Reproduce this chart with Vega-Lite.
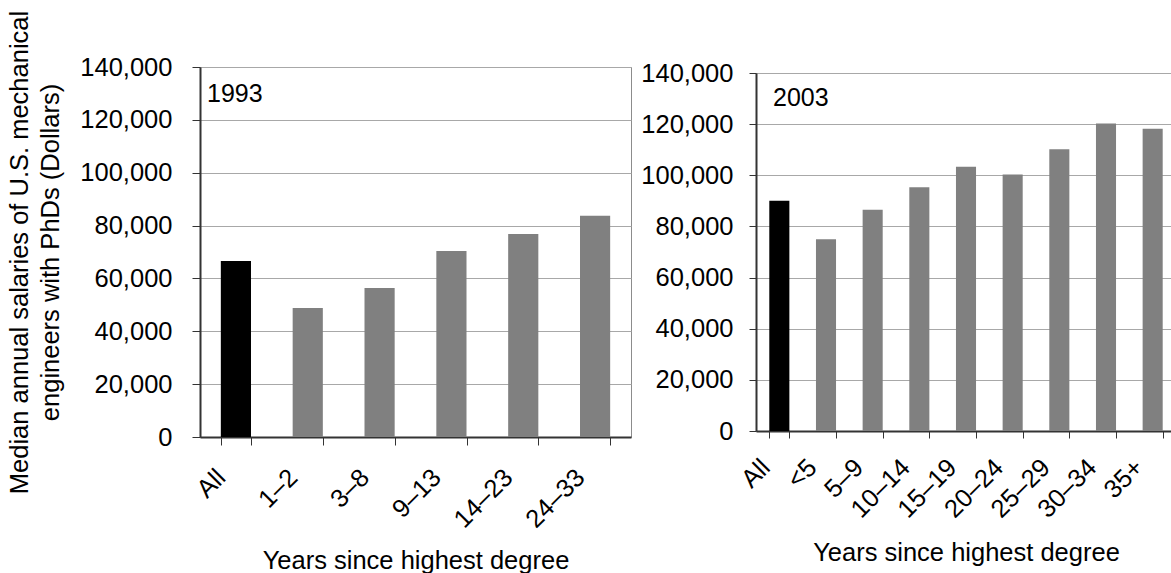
{
  "$schema": "https://vega.github.io/schema/vega-lite/v6.json",
  "background": "white",
  "padding": {"left": 6, "top": 9, "right": 0, "bottom": 0},
  "spacing": 125,
  "bounds": "flush",
  "center": true,
  "config": {
    "font": "Liberation Sans",
    "view": {"stroke": "#8c8c8c", "strokeWidth": 1},
    "axis": {
      "labelFont": "Liberation Sans",
      "titleFont": "Liberation Sans",
      "labelColor": "#000000",
      "titleColor": "#000000",
      "labelFontSize": 25.5,
      "titleFontSize": 25.5,
      "titleFontWeight": "normal",
      "tickColor": "#333333",
      "domainColor": "#333333",
      "domainWidth": 2,
      "gridColor": "#a8a8a8",
      "gridWidth": 1
    }
  },
  "hconcat": [
    {
      "width": 431,
      "height": 370,
      "layer": [
        {
          "data": {"values": [
            {"range": "All", "salary": 66600},
            {"range": "1–2", "salary": 48800},
            {"range": "3–8", "salary": 56400},
            {"range": "9–13", "salary": 70400},
            {"range": "14–23", "salary": 76800},
            {"range": "24–33", "salary": 83700}
          ]},
          "mark": {"type": "bar"},
          "encoding": {
            "x": {
              "field": "range", "type": "nominal", "sort": null,
              "scale": {"paddingInner": 0.58, "paddingOuter": 0.29},
              "axis": {
                "title": "Years since highest degree",
                "titleY": 131, "titleBaseline": "alphabetic",
                "labelAngle": -45, "labelAlign": "right", "labelBaseline": "middle",
                "labelPadding": 28, "labelOffset": -15, "labelOverlap": false, "labelLimit": 0,
                "tickBand": "extent", "tickSize": 8, "grid": false
              }
            },
            "y": {
              "field": "salary", "type": "quantitative",
              "scale": {"domain": [0, 140000], "nice": false},
              "axis": {
                "values": [0, 20000, 40000, 60000, 80000, 100000, 120000, 140000],
                "format": ",d",
                "labelPadding": 20, "tickSize": 8,
                "title": ["Median annual salaries of U.S. mechanical", "engineers with PhDs (Dollars)"],
                "titleX": -193, "titleBaseline": "top", "titleLineHeight": 31
              }
            },
            "color": {"condition": {"test": "datum.range === 'All'", "value": "#000000"}, "value": "#808080"}
          }
        },
        {
          "data": {"values": [{"year": "1993"}]},
          "mark": {"type": "text", "align": "left", "baseline": "alphabetic", "fontSize": 25, "dx": -13.8, "dy": 35, "color": "#000000"},
          "encoding": {
            "text": {"field": "year", "type": "nominal"},
            "x": {"datum": "All", "bandPosition": 0},
            "y": {"datum": 140000, "type": "quantitative"}
          }
        }
      ]
    },
    {
      "width": 420,
      "height": 358,
      "layer": [
        {
          "data": {"values": [
            {"range": "All", "salary": 90000},
            {"range": "<5", "salary": 75000},
            {"range": "5–9", "salary": 86500},
            {"range": "10–14", "salary": 95300},
            {"range": "15–19", "salary": 103300},
            {"range": "20–24", "salary": 100300},
            {"range": "25–29", "salary": 110200},
            {"range": "30–34", "salary": 120300},
            {"range": "35+", "salary": 118200}
          ]},
          "mark": {"type": "bar"},
          "encoding": {
            "x": {
              "field": "range", "type": "nominal", "sort": null,
              "scale": {"paddingInner": 0.57, "paddingOuter": 0.285},
              "axis": {
                "title": "Years since highest degree",
                "titleY": 129, "titleBaseline": "alphabetic",
                "labelAngle": -45, "labelAlign": "right", "labelBaseline": "middle",
                "labelPadding": 25, "labelOffset": -14, "labelOverlap": false, "labelLimit": 0,
                "tickBand": "extent", "tickSize": 7, "grid": false
              }
            },
            "y": {
              "field": "salary", "type": "quantitative",
              "scale": {"domain": [0, 140000], "nice": false},
              "axis": {
                "values": [0, 20000, 40000, 60000, 80000, 100000, 120000, 140000],
                "format": ",d",
                "labelPadding": 16, "tickSize": 7,
                "title": null
              }
            },
            "color": {"condition": {"test": "datum.range === 'All'", "value": "#000000"}, "value": "#808080"}
          }
        },
        {
          "data": {"values": [{"year": "2003"}]},
          "mark": {"type": "text", "align": "left", "baseline": "alphabetic", "fontSize": 25, "dx": 3.7, "dy": 33, "color": "#000000"},
          "encoding": {
            "text": {"field": "year", "type": "nominal"},
            "x": {"datum": "All", "bandPosition": 0},
            "y": {"datum": 140000, "type": "quantitative"}
          }
        }
      ]
    }
  ]
}
